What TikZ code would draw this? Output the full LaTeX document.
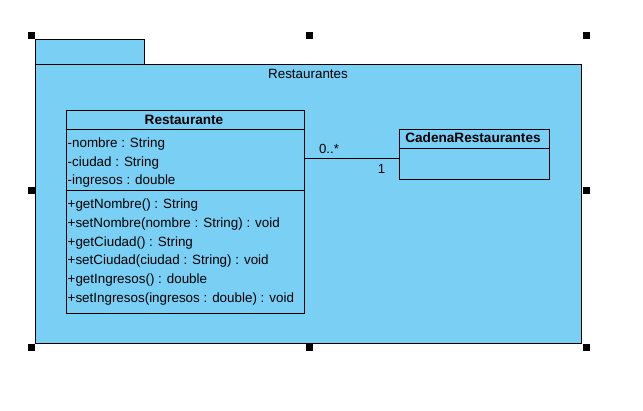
\documentclass[tikz,border=0pt]{standalone}
\usepackage{fontspec}
\setmainfont{Liberation Sans}
\definecolor{pkgblue}{RGB}{122,207,245}
\tikzset{
  pkgbox/.style={draw=black, fill=pkgblue, line width=0.9pt},
  classbox/.style={draw=black, line width=0.9pt, rectangle, inner sep=0pt, anchor=north west},
  handle/.style={fill=black, draw=none, minimum size=7pt, inner sep=0pt, rectangle},
  member/.style={anchor=base west, inner sep=0pt, font=\fontsize{13.4}{16}\selectfont},
  title/.style={anchor=base, inner sep=0pt, font=\fontsize{13.6}{16}\selectfont\bfseries},
  mult/.style={anchor=base, inner sep=0pt, font=\fontsize{13.2}{16}\selectfont},
  sep/.style={draw=black, line width=0.9pt}
}
\begin{document}
\begin{tikzpicture}[x=1pt,y=-1pt]
\useasboundingbox (0,0) rectangle (643,411);
% package
\draw[pkgbox] (35,39) rectangle (144,64);
\draw[pkgbox] (35,64) rectangle (581,343);
\node[anchor=base, inner sep=0pt, font=\fontsize{13.4}{16}\selectfont] (pkgname) at (308,78.7) {Restaurantes};
% class Restaurante
\node[classbox, minimum width=238.5pt, minimum height=203pt] (rest) at (65.5,110.5) {};
\draw[sep] (rest.west |- 0,129.5) -- (rest.east |- 0,129.5);
\draw[sep] (rest.west |- 0,190) -- (rest.east |- 0,190);
\node[title] (restname) at (184,125) {Restaurante};
\node[member] (a1) at (67.5,147.5) {-nombre : String};
\node[member] (a2) at (67.5,166.2) {-ciudad : String};
\node[member] (a3) at (67.5,184.8) {-ingresos : double};
\node[member] (o1) at (67.5,209) {+getNombre() : String};
\node[member] (o2) at (67.5,227.7) {+setNombre(nombre : String) : void};
\node[member] (o3) at (67.5,246.3) {+getCiudad() : String};
\node[member] (o4) at (67.5,265) {+setCiudad(ciudad : String) : void};
\node[member] (o5) at (67.5,283.6) {+getIngresos() : double};
\node[member] (o6) at (67.5,302.3) {+setIngresos(ingresos : double) : void};
% class CadenaRestaurantes
\node[classbox, minimum width=150pt, minimum height=50pt] (cad) at (399.3,129.3) {};
\draw[sep] (cad.west |- 0,148.3) -- (cad.east |- 0,148.3);
\node[title] (cadname) at (473,143) {CadenaRestaurantes};
% association
\draw[line width=0.9pt] (rest.east |- 0,158.3) -- (cad.west |- 0,158.3);
\node[mult] (m1) at (329,154) {0..*};
\node[mult] (m2) at (381.5,174) {1};
% selection handles
\node[handle] (h1) at (31.5,35.3) {};
\node[handle] (h2) at (309,35.3) {};
\node[handle] (h3) at (586.5,35.3) {};
\node[handle] (h4) at (31.5,190.5) {};
\node[handle] (h5) at (586.5,190.5) {};
\node[handle] (h6) at (31.5,347.5) {};
\node[handle] (h7) at (309,347.5) {};
\node[handle] (h8) at (586.5,347.5) {};
\end{tikzpicture}
\end{document}
